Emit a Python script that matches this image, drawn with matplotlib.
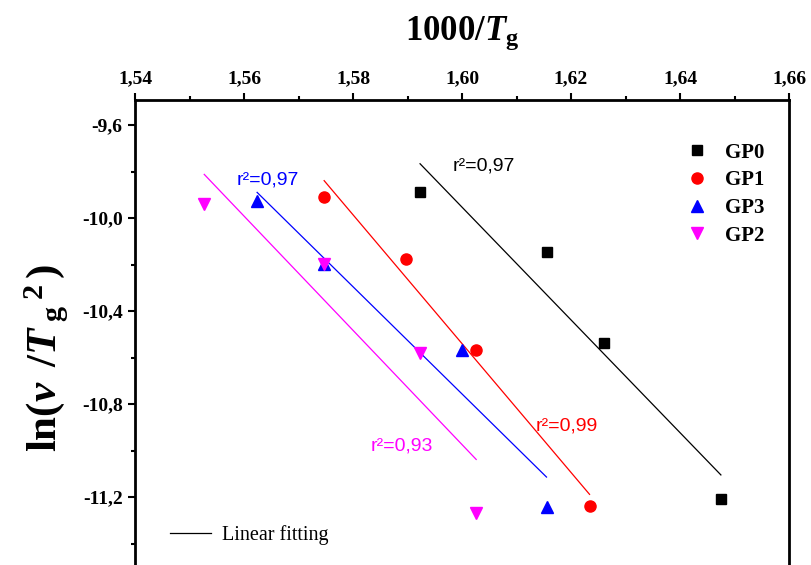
import numpy as np
import matplotlib
matplotlib.use('Agg')
import matplotlib.pyplot as plt
from matplotlib.lines import Line2D
from matplotlib.ticker import MultipleLocator, FuncFormatter

# 1000/Tg (x) and ln(v/Tg^2) (y)
names = ['GP0', 'GP1', 'GP3', 'GP2']
x_gp0 = [1.5923, 1.6155, 1.6261, 1.6475]
y_gp0 = [-9.890, -10.148, -10.539, -11.210]
x_gp1 = [1.5747, 1.5897, 1.6026, 1.6234]
y_gp1 = [-9.911, -10.178, -10.569, -11.237]
x_gp3 = [1.5624, 1.5747, 1.6000, 1.6155]
y_gp3 = [-9.926, -10.198, -10.568, -11.242]
x_gp2 = [1.5527, 1.5747, 1.5923, 1.6026]
y_gp2 = [-9.941, -10.198, -10.582, -11.268]
r2_labels = ['r²=0,97', 'r²=0,99', 'r²=0,97', 'r²=0,93']

xs = [x_gp0, x_gp1, x_gp3, x_gp2]
ys = [y_gp0, y_gp1, y_gp3, y_gp2]
colors = ['black', 'red', 'blue', 'magenta']
markers = ['s', 'o', '^', 'v']
msizes = [7, 8, 9, 9]
# where the r^2 labels sit (data coords, left/baseline)
r2_pos = [(1.5982, -9.797), (1.6135, -10.916), (1.5587, -9.858), (1.5832, -11.001)]

plt.rcParams['font.family'] = 'Liberation Serif'
plt.rcParams['font.weight'] = 'bold'
plt.rcParams['mathtext.fontset'] = 'custom'
plt.rcParams['mathtext.rm'] = 'Liberation Serif:bold'
plt.rcParams['mathtext.it'] = 'Liberation Serif:italic:bold'
plt.rcParams['mathtext.bf'] = 'Liberation Serif:bold'

fig = plt.figure(figsize=(8.11, 5.65), dpi=100)
# bottom of the frame runs past the lower edge, as in the original
ax = fig.add_axes([0.1665, -0.0402, 0.8064, 0.8632])

handles = []
for x, y, c, m, ms, name in zip(xs, ys, colors, markers, msizes, names):
    k, b = np.polyfit(x, y, 1)
    xf = np.array([min(x), max(x)])
    ax.plot(xf, k * xf + b, color=c, lw=0.9)
    h, = ax.plot(x, y, ls='none', marker=m, color=c, ms=ms, label=name)
    handles.append(h)

for (tx, ty), lab, c in zip(r2_pos, r2_labels, colors):
    ax.text(tx, ty, lab, color=c, fontsize=14, family='Liberation Sans',
            fontweight='normal', ha='left', va='baseline')

ax.set_xlim(1.54, 1.66)
ax.set_ylim(-11.59, -9.4925)

ax.xaxis.tick_top()
ax.xaxis.set_major_locator(MultipleLocator(0.02))
ax.xaxis.set_minor_locator(MultipleLocator(0.01))
ax.yaxis.set_major_locator(MultipleLocator(0.4))
ax.yaxis.set_minor_locator(MultipleLocator(0.2))
ax.xaxis.set_major_formatter(FuncFormatter(lambda v, p: f'{v:.2f}'.replace('.', ',')))
ax.yaxis.set_major_formatter(FuncFormatter(lambda v, p: f'{v:.1f}'.replace('.', ',')))
ax.tick_params(which='both', direction='out', width=1.5, labelsize=14,
               top=True, bottom=False, left=True, right=False)
ax.tick_params(which='major', length=5, pad=4)
ax.tick_params(which='minor', length=3)
for s in ax.spines.values():
    s.set_linewidth(2)

ax.xaxis.set_label_position('top')
ax.set_xlabel(r'$1000/T_{\mathrm{g}}$', fontsize=25, labelpad=22)
fig.text(47 / 811, 1 - 358 / 565,
         r'$\mathrm{ln(}v\ \,/T\,_{\mathrm{g}}\,{}^{2}\,\mathrm{)}$',
         fontsize=31, rotation=90, ha='center', va='center')

leg1 = ax.legend(handles=handles, loc='upper left', bbox_to_anchor=(0.828, 0.934),
                 frameon=False, borderpad=0, handlelength=1.0, handletextpad=0.85,
                 labelspacing=0.37, prop={'family': 'Liberation Serif', 'weight': 'bold', 'size': 15})
ax.add_artist(leg1)
fit_handle = Line2D([], [], color='black', lw=0.9)
ax.legend(handles=[fit_handle], labels=['Linear fitting'], loc='center left',
          bbox_to_anchor=(0.0386, 0.108), frameon=False, borderpad=0,
          handlelength=2.0, handletextpad=0.58,
          prop={'family': 'Liberation Serif', 'weight': 'normal', 'size': 14.5})

fig.savefig('out.png', dpi=100)
